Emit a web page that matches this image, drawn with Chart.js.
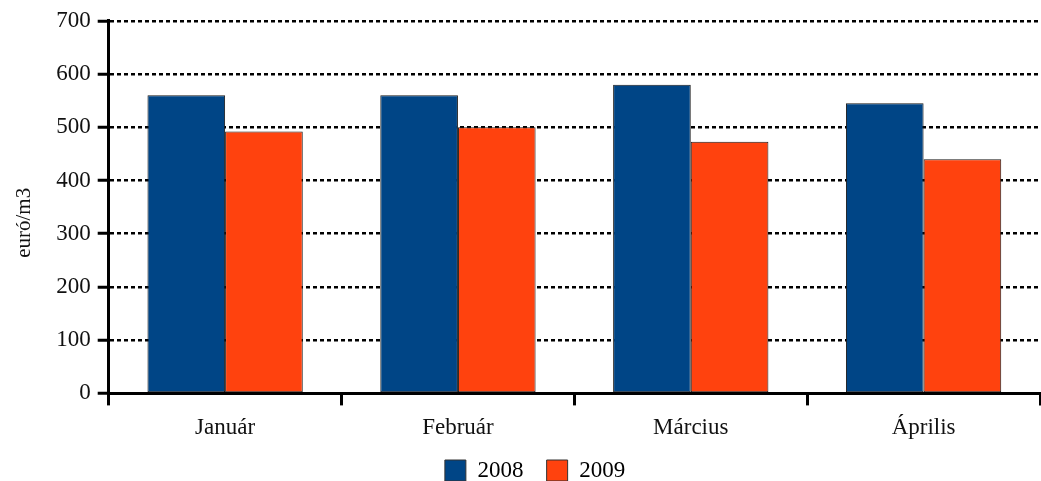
<!DOCTYPE html>
<html><head><meta charset="utf-8">
<script src="https://cdn.jsdelivr.net/npm/chart.js@4/dist/chart.umd.min.js"></script>
<style>html,body{margin:0;padding:0;background:#fff}#wrap{width:1041px;height:481px}</style>
</head><body><div id="wrap"><canvas id="c" width="1041" height="481"></canvas></div>
<script>
const categories = ["Január", "Február", "Március", "Április"];
const seriesNames = ["2008", "2009"];
const values2008 = [560, 560, 580, 545];
const values2009 = [492, 500, 473, 440];
const yTicks = [0, 100, 200, 300, 400, 500, 600, 700];
const FONT = "'Liberation Serif', 'DejaVu Serif', serif";

const legendShift = {
  id: 'legendShift',
  afterLayout(chart) {
    const lg = chart.legend;
    if (lg) { lg.left += 9; lg.right += 9; lg.top += 2; lg.bottom += 2; }
  }
};

new Chart(document.getElementById('c'), {
  type: 'bar',
  data: {
    labels: categories,
    datasets: [
      {label: seriesNames[0], data: values2008, backgroundColor: '#004586', borderColor: '#1a1a1a', borderWidth: 1, borderSkipped: false},
      {label: seriesNames[1], data: values2009, backgroundColor: '#ff420e', borderColor: '#1a1a1a', borderWidth: 1, borderSkipped: false}
    ]
  },
  plugins: [legendShift],
  options: {
    responsive: false,
    animation: false,
    devicePixelRatio: 1,
    layout: {padding: {top: 11, right: 1, left: 12, bottom: -9}},
    datasets: {bar: {categoryPercentage: 0.667, barPercentage: 1.0}},
    plugins: {
      legend: {
        position: 'bottom',
        labels: {
          font: {family: FONT, size: 23}, color: '#000', boxWidth: 21, boxHeight: 21, padding: 6,
          generateLabels(chart) {
            const items = Chart.defaults.plugins.legend.labels.generateLabels(chart);
            items.forEach((it, i) => { if (i < items.length - 1) it.text = it.text + '   '; it.lineWidth = 1; it.strokeStyle = '#333'; });
            return items;
          }
        },
      },
      tooltip: {enabled: false}
    },
    scales: {
      x: {
        offset: true,
        grid: {display: true, offset: true, drawOnChartArea: false, drawTicks: true, tickLength: 12, tickWidth: 3, tickColor: '#000'},
        border: {display: true, color: '#000', width: 3},
        ticks: {font: {family: FONT, size: 23}, color: '#111', padding: 9}
      },
      y: {
        min: 0, max: 700,
        afterBuildTicks: (axis) => { axis.ticks = yTicks.map(v => ({value: v})); },
        grid: {color: '#000', lineWidth: 2.5, tickLength: 11, tickWidth: 3, tickColor: '#000', drawTicks: true},
        border: {display: true, color: '#000', width: 3, dash: [4,3]},
        ticks: {font: {family: FONT, size: 23}, color: '#111', padding: 7},
        title: {display: true, text: 'euró/m3\u00a0\u00a0\u00a0\u00a0\u00a0\u00a0', font: {family: FONT, size: 21}, color: '#111', padding: {top: 0, bottom: 12}}
      }
    }
  }
});
</script></body></html>
